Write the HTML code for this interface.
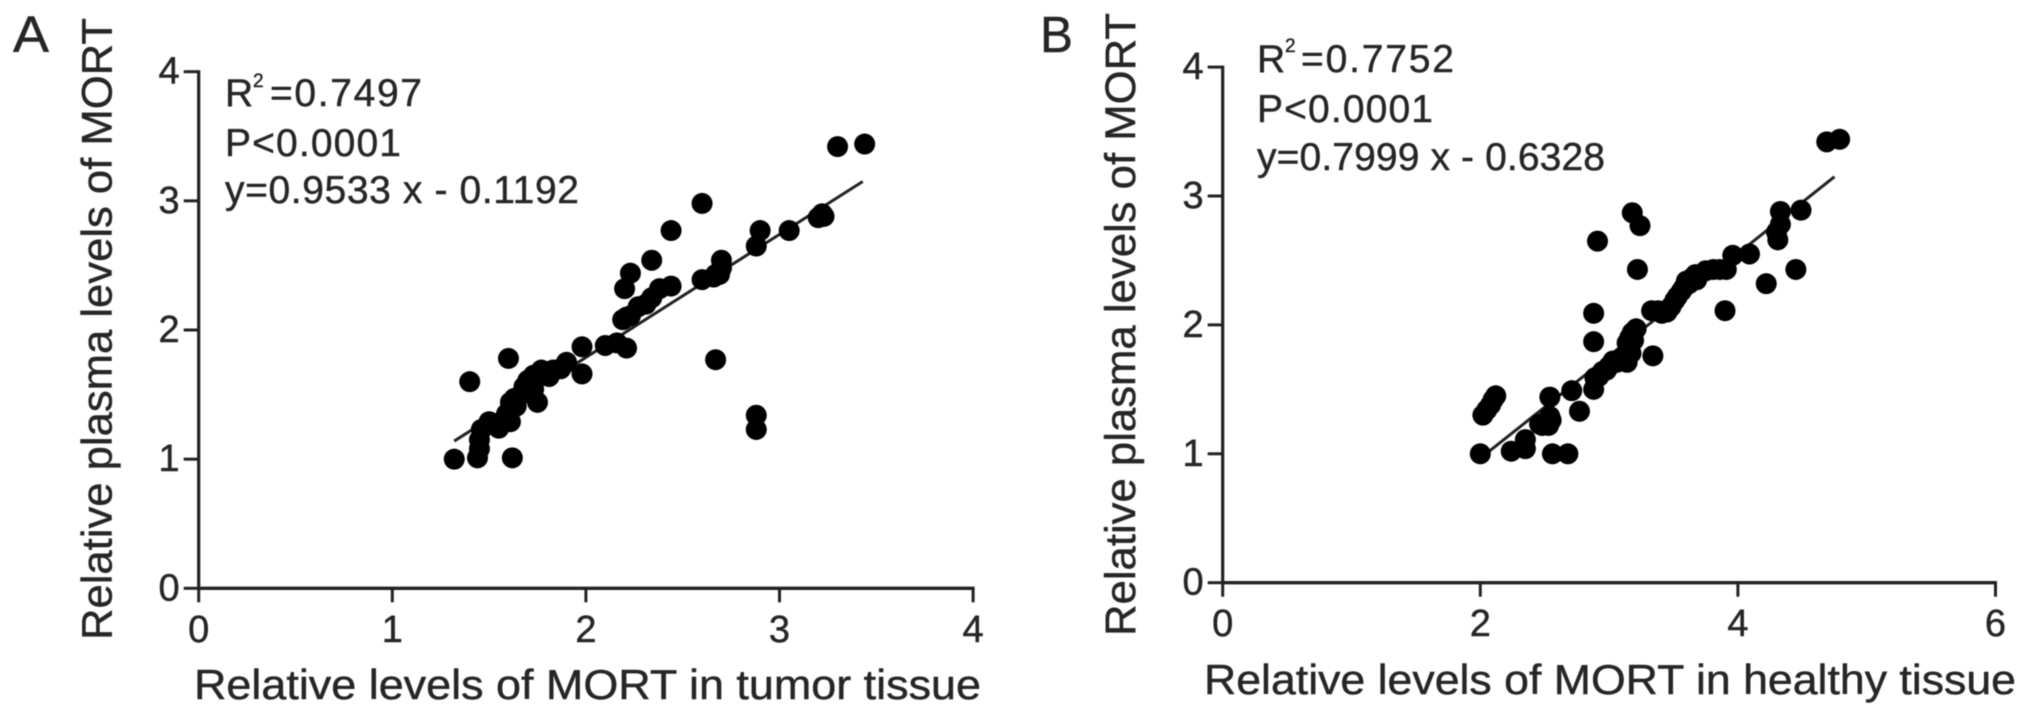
<!DOCTYPE html>
<html lang="en">
<head>
<meta charset="utf-8">
<title>MORT correlation scatter plots</title>
<style>
html,body{margin:0;padding:0;background:#fff;width:2031px;height:718px;overflow:hidden}
svg{display:block;filter:blur(0.6px)}
text{font-family:"Liberation Sans",Arial,sans-serif;fill:#262626;stroke:#262626;stroke-width:0.45px}
</style>
</head>
<body>
<svg id="figure" xmlns="http://www.w3.org/2000/svg" width="2031" height="718" viewBox="0 0 2031 718">
  <rect width="2031" height="718" fill="#fff"/>
  <text x="13" y="52" font-size="51" textLength="36" lengthAdjust="spacingAndGlyphs">A</text>
  <text x="1040" y="52" font-size="51" textLength="33" lengthAdjust="spacingAndGlyphs">B</text>

  <g id="panel-a"></g>
  <g id="panel-b"></g>

  <text transform="translate(111.5,640) rotate(-90)" font-size="43" textLength="622" lengthAdjust="spacingAndGlyphs">Relative plasma levels of MORT</text>
  <text x="194" y="699" font-size="42" textLength="787" lengthAdjust="spacingAndGlyphs">Relative levels of MORT in tumor tissue</text>
  <text transform="translate(1135,636) rotate(-90)" font-size="43" textLength="623" lengthAdjust="spacingAndGlyphs">Relative plasma levels of MORT</text>
  <text x="1204" y="694" font-size="42" textLength="812" lengthAdjust="spacingAndGlyphs">Relative levels of MORT in healthy tissue</text>

  <g font-size="39">
    <text x="225" y="106">R</text>
    <text x="253" y="87" font-size="19">2</text>
    <text x="270" y="106" textLength="152" lengthAdjust="spacing">=0.7497</text>
    <text x="225" y="156" textLength="176" lengthAdjust="spacing">P&lt;0.0001</text>
    <text x="225" y="203" textLength="354" lengthAdjust="spacing">y=0.9533 x - 0.1192</text>
  </g>
  <g font-size="39">
    <text x="1257" y="72">R</text>
    <text x="1285" y="52" font-size="19">2</text>
    <text x="1301" y="72" textLength="153" lengthAdjust="spacing">=0.7752</text>
    <text x="1257" y="122" textLength="176" lengthAdjust="spacing">P&lt;0.0001</text>
    <text x="1257" y="170" textLength="348" lengthAdjust="spacing">y=0.7999 x - 0.6328</text>
  </g>
</svg>

<script>
// Panel A data: tumor tissue (x) against plasma (y)
var tumorX = [1.32,1.44,1.45,1.45,1.46,1.62,1.40,1.60,1.55,1.50,1.61,1.59,1.61,1.63,1.67,1.70,1.75,1.77,1.73,1.87,1.90,1.98,1.98,2.10,2.16,2.21,2.21,2.20,2.23,2.31,2.34,2.38,2.44,2.34,2.44,2.60,2.60,2.67,2.70,2.69,2.67,2.88,2.88,2.88,2.90,3.05,3.20,3.23,3.30,3.44,1.53,1.65,1.73,1.81,1.83,1.64,1.68,2.19,2.23,2.27,2.70,2.66,3.22];
var tumorPlasmaY = [1.00,1.01,1.08,1.15,1.23,1.01,1.60,1.78,1.24,1.29,1.29,1.35,1.44,1.47,1.51,1.61,1.44,1.69,1.65,1.70,1.75,1.87,1.66,1.88,1.90,1.86,2.10,2.32,2.44,2.20,2.25,2.32,2.34,2.54,2.77,2.98,2.39,2.43,2.54,2.43,1.77,1.34,1.23,2.65,2.77,2.77,2.87,2.88,3.42,3.44,1.27,1.48,1.54,1.64,1.69,1.41,1.56,2.08,2.11,2.18,2.48,2.41,2.90];
var tumorLineX = [1.32,3.43];
var tumorLineY = [1.14,3.15];
var tumorXTicks = [0,1,2,3,4];
var tumorYTicks = [0,1,2,3,4];

// Panel B data: healthy tissue (x) against plasma (y)
var healthyX = [2.00,2.02,2.08,2.12,2.24,2.35,2.35,2.48,2.53,2.54,2.54,2.56,2.68,2.71,2.77,2.88,2.89,2.88,2.88,2.91,3.18,3.24,3.22,2.98,3.06,3.14,3.16,3.16,3.21,3.34,3.33,3.45,3.51,3.56,3.60,3.67,3.81,3.91,3.90,3.96,4.09,4.22,4.45,4.31,4.33,4.33,4.49,4.69,4.79,2.92,2.95,3.00,3.03,3.09,3.12,3.17,3.14,3.19,3.18,3.38,3.41,3.48,3.53,3.58,3.62,3.64,3.68,3.86,3.75,2.46,2.55,4.30,2.05,2.10];
var healthyPlasmaY = [1.00,1.30,1.38,1.45,1.02,1.04,1.11,1.22,1.22,1.29,1.44,1.00,1.00,1.49,1.33,1.50,1.59,1.87,2.09,2.65,2.87,2.77,2.43,1.65,1.71,1.71,1.82,1.90,1.97,1.76,2.11,2.10,2.19,2.26,2.34,2.39,2.43,2.43,2.11,2.54,2.55,2.32,2.43,2.66,2.78,2.88,2.89,3.42,3.44,1.60,1.64,1.68,1.72,1.74,1.76,1.78,1.86,1.88,1.94,2.11,2.09,2.14,2.22,2.29,2.32,2.36,2.35,2.43,2.42,1.23,1.26,2.72,1.34,1.42];
var healthyLineX = [2.07,4.75];
var healthyLineY = [1.02,3.15];
var healthyXTicks = [0,2,4,6];
var healthyYTicks = [0,1,2,3,4];

var SVG_NS = 'http://www.w3.org/2000/svg';
var INK = '#222';

function makeScale(d0, d1, r0, r1) {
  return function (v) { return r0 + (v - d0) * (r1 - r0) / (d1 - d0); };
}

function makeLine(parent, x1, y1, x2, y2, width) {
  var l = document.createElementNS(SVG_NS, 'line');
  l.setAttribute('x1', x1);
  l.setAttribute('y1', y1);
  l.setAttribute('x2', x2);
  l.setAttribute('y2', y2);
  l.setAttribute('stroke', INK);
  l.setAttribute('stroke-width', width);
  parent.appendChild(l);
  return l;
}

function makeLabel(parent, x, y, anchor, value) {
  var t = document.createElementNS(SVG_NS, 'text');
  t.setAttribute('x', x);
  t.setAttribute('y', y);
  t.setAttribute('text-anchor', anchor);
  t.setAttribute('font-size', '38');
  t.textContent = value;
  parent.appendChild(t);
  return t;
}

function drawPanel(opts) {
  var g = document.getElementById(opts.id);
  var sx = makeScale(opts.xTicks[0], opts.xTicks[opts.xTicks.length - 1], opts.left, opts.right);
  var sy = makeScale(opts.yTicks[0], opts.yTicks[opts.yTicks.length - 1], opts.bottom, opts.top);

  var xAxis = makeLine(g, opts.left, opts.bottom, opts.right + 1.5, opts.bottom, 3.4);
  
  
  var yAxis = makeLine(g, opts.left, opts.top - 1.5, opts.left, opts.bottom, 3.2);
  
  

  opts.xTicks.forEach(function (v) {
    var tick = makeLine(g, sx(v), opts.bottom, sx(v), opts.bottom + 14, 3);
    
    
    var label = makeLabel(g, sx(v), opts.bottom + 53.5, 'middle', v);
    
    
  });

  opts.yTicks.forEach(function (v) {
    var tick = makeLine(g, opts.left - 15, sy(v), opts.left, sy(v), 3);
    
    
    var label = makeLabel(g, opts.left - 19, sy(v) + 12, 'end', v);
    
    
  });

  var fit = makeLine(g, sx(opts.lineX[0]), sy(opts.lineY[0]), sx(opts.lineX[1]), sy(opts.lineY[1]), 3);
  
  

  opts.xs.forEach(function (v, i) {
    var c = document.createElementNS(SVG_NS, 'circle');
    c.setAttribute('cx', sx(v));
    c.setAttribute('cy', sy(opts.ys[i]));
    c.setAttribute('r', '10.5');
    c.setAttribute('fill', '#000');
    
    
    g.appendChild(c);
  });
}

drawPanel({
  id: 'panel-a', left: 198.7, right: 973.1, bottom: 588.3, top: 71.7,
  xTicks: tumorXTicks, yTicks: tumorYTicks,
  xs: tumorX, ys: tumorPlasmaY, lineX: tumorLineX, lineY: tumorLineY
});
drawPanel({
  id: 'panel-b', left: 1222.7, right: 1995.5, bottom: 582.7, top: 67.1,
  xTicks: healthyXTicks, yTicks: healthyYTicks,
  xs: healthyX, ys: healthyPlasmaY, lineX: healthyLineX, lineY: healthyLineY
});
</script>
</body>
</html>
